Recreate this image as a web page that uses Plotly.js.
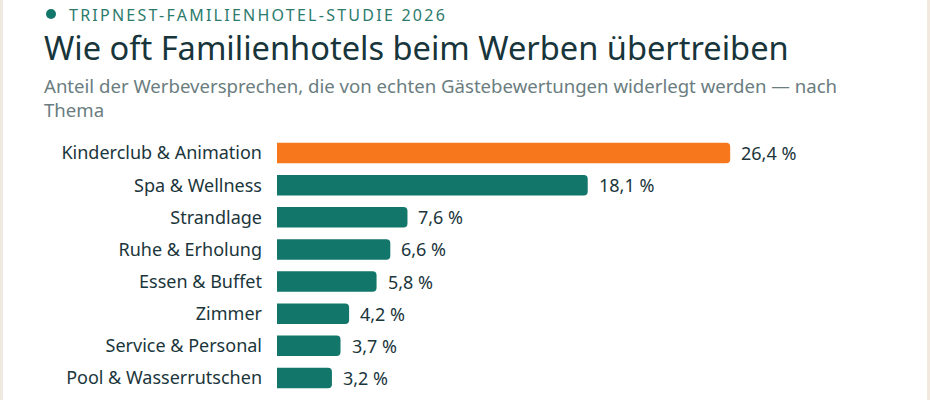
<!DOCTYPE html>
<html><head><meta charset="utf-8">
<script src="https://cdn.plot.ly/plotly-3.0.1.min.js"></script>
<style>
html,body{margin:0;padding:0;background:#fff;}
#chart{width:924px;height:400px;border-left:3px solid #eeeadf;border-right:3px solid #f3e8dd;}
</style></head>
<body><div id="chart"></div>
<script>
const categories = ["Kinderclub & Animation","Spa & Wellness","Strandlage","Ruhe & Erholung","Essen & Buffet","Zimmer","Service & Personal","Pool & Wasserrutschen"];
const values = [26.4, 18.1, 7.6, 6.6, 5.8, 4.2, 3.7, 3.2];
const highlight = "Kinderclub & Animation";
const eyebrow = "TRIPNEST-FAMILIENHOTEL-STUDIE 2026";
const titleText = "Wie oft Familienhotels beim Werben übertreiben";
const subtitleText = "Anteil der Werbeversprechen, die von echten Gästebewertungen widerlegt werden — nach<br>Thema";

const W = 924, H = 400;
const M = {l:274, r:135, t:137, b:6};
const PW = W - M.l - M.r, PH = H - M.t - M.b;
const px = x => (x - 3 - M.l) / PW;      // screen x -> paper
const py = y => (H - M.b - y) / PH;      // screen y -> paper

const ORANGE = "#f7781c", TEAL = "#13766b", DARK = "#1b363b";
const colors = categories.map(c => c === highlight ? ORANGE : TEAL);
const FONT = "Noto Sans, Open Sans, sans-serif";

const annotations = [
  {text: eyebrow, xref:"paper", yref:"paper", x:px(67), y:py(15), xanchor:"left", yanchor:"middle", showarrow:false,
   font:{family:FONT, size:16, color:"#2b7a6c"}},
  {text: titleText, xref:"paper", yref:"paper", x:px(42), y:py(48), xanchor:"left", yanchor:"middle", showarrow:false,
   font:{family:FONT, size:32.6, color:"#17353a"}},
  {text: subtitleText, xref:"paper", yref:"paper", x:px(42), y:py(97), xanchor:"left", yanchor:"middle", align:"left", showarrow:false,
   font:{family:FONT, size:18.6, color:"#6a7d80"}}
];
categories.forEach((c, i) => {
  annotations.push({text: values[i].toFixed(1).replace(".", ",") + " %", x: values[i], y: c, xref:"x", yref:"y",
    xanchor:"left", yanchor:"middle", xshift: 9, showarrow:false, font:{family:FONT, size:18, color:DARK}});
});

const shapes = [
  {type:"circle", xref:"paper", yref:"paper", x0:px(46), x1:px(56), y0:py(9), y1:py(19), fillcolor:"#13766b", line:{width:0}}
];

const trace = {
  type:"bar", orientation:"h", x: values, y: categories,
  marker:{color: colors, cornerradius: 4, line:{width:0}},
  width: 0.64, hoverinfo:"none"
};

const layout = {
  width: W, height: H, margin: M,
  paper_bgcolor:"#ffffff", plot_bgcolor:"#ffffff",
  showlegend:false, separators:", ",
  xaxis:{range:[0,30], visible:false, fixedrange:true},
  yaxis:{autorange:false, range:[categories.length-0.5, -0.5], type:"category",
    showgrid:false, zeroline:false, showline:false, ticks:"", ticklabelstandoff:14,
    tickfont:{family:FONT, size:18, color:DARK}},
  font:{family:FONT},
  annotations, shapes
};

Plotly.newPlot("chart", [trace], layout, {displayModeBar:false, staticPlot:true}).then(() => {
  document.querySelectorAll("#chart .annotation-text").forEach(t => {
    if (t.textContent.indexOf("TRIPNEST") === 0) {
      const bb = t.getBBox();
      t.setAttribute("text-anchor", "start");
      t.setAttribute("x", bb.x);
      t.style.letterSpacing = "2.25px";
    }
  });
});
</script></body></html>
